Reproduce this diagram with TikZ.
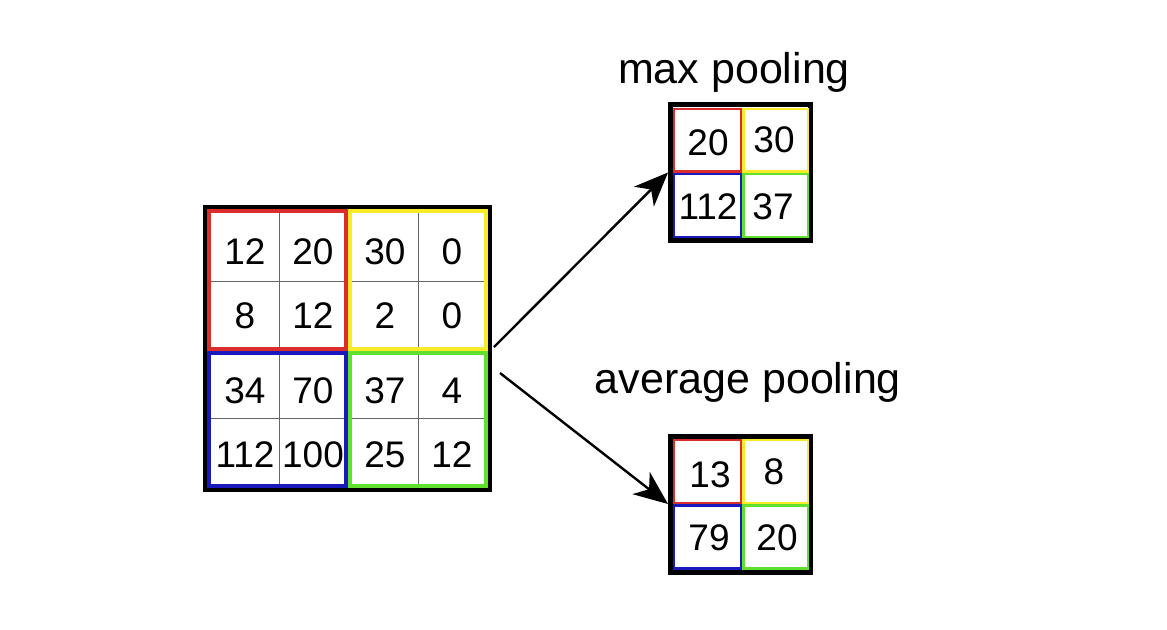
\documentclass[tikz,border=0pt]{standalone}
\usepackage{fontspec}
\setmainfont{Liberation Sans}
\usetikzlibrary{arrows.meta,positioning}
\definecolor{poolred}{RGB}{220,45,45}
\definecolor{poolyellow}{RGB}{250,235,40}
\definecolor{poolblue}{RGB}{25,25,190}
\definecolor{poolgreen}{RGB}{95,225,45}

\begin{document}
\begin{tikzpicture}[x=0.5pt,y=-0.5pt,
  num/.style={inner sep=0pt,font=\fontsize{18.5}{18}\selectfont},
  title/.style={inner sep=0pt,font=\fontsize{21.5}{24}\selectfont},
  pbox/.style={draw,line width=2.5pt,minimum width=70pt,minimum height=68pt,inner sep=0pt},
  arrow/.style={-{Stealth[length=17pt,width=14pt,inset=5pt]},line width=1.2pt}]
  \useasboundingbox (0,0) rectangle (1167,629);

  \foreach \x in {279,418} \draw[black!60,line width=0.5pt] (\x,211) -- (\x,486);
  \foreach \y in {281,418} \draw[black!60,line width=0.5pt] (209,\y) -- (486,\y);
  \draw[poolred,line width=2pt] (209,211) rectangle (346,349);
  \draw[poolyellow,line width=2pt] (350,211) rectangle (486,349);
  \draw[poolblue,line width=2pt] (209,353) rectangle (346,486);
  \draw[poolgreen,line width=2pt] (350,353) rectangle (486,486);
  \draw[line width=2pt] (205,207) rectangle (490,490);
  \foreach \a/\b/\c/\d/\y [count=\r] in {12/20/30/0/252,8/12/2/0/316,34/70/37/4/391,112/100/25/12/455} {
    \node[num] (in-\r-1) at (245,\y) {\a};
    \node[num] (in-\r-2) at (313,\y) {\b};
    \node[num] (in-\r-3) at (385,\y) {\c};
    \node[num] (in-\r-4) at (452,\y) {\d};
  }

  \node[title] (maxt) at (734,72) {max pooling};
  \node[pbox] (maxp) at (740.5,172.5) {};
  \draw[poolred,line width=1.2pt] (674,109) rectangle (741,171.5);
  \draw[poolyellow,line width=1.2pt] (743.5,109) rectangle (808,171.5);
  \draw[poolblue,line width=1.2pt] (674,174) rectangle (741,237);
  \draw[poolgreen,line width=1.2pt] (743.5,174) rectangle (808,237);
  \node[num] (max-1) at (708,143) {20};
  \node[num] (max-2) at (774,140) {30};
  \node[num] (max-3) at (708,207) {112};
  \node[num] (max-4) at (773,207) {37};

  \node[title] (avgt) at (748,382) {average pooling};
  \node[pbox] (avgp) at (740.5,504) {};
  \draw[poolred,line width=1.2pt] (674,440) rectangle (741,503);
  \draw[poolyellow,line width=1.2pt] (743.5,440) rectangle (808,503);
  \draw[poolblue,line width=1.2pt] (674,505.5) rectangle (741,568.5);
  \draw[poolgreen,line width=1.2pt] (743.5,505.5) rectangle (808,568.5);
  \node[num] (avg-1) at (710,475) {13};
  \node[num] (avg-2) at (774,472) {8};
  \node[num] (avg-3) at (709,538) {79};
  \node[num] (avg-4) at (777,538) {20};

  \coordinate (split-a) at (494,347);
  \coordinate (split-b) at (500,373);
  \draw[arrow] (split-a) -- (maxp.west);
  \draw[arrow] (split-b) -- (avgp.west);
\end{tikzpicture}
\end{document}
